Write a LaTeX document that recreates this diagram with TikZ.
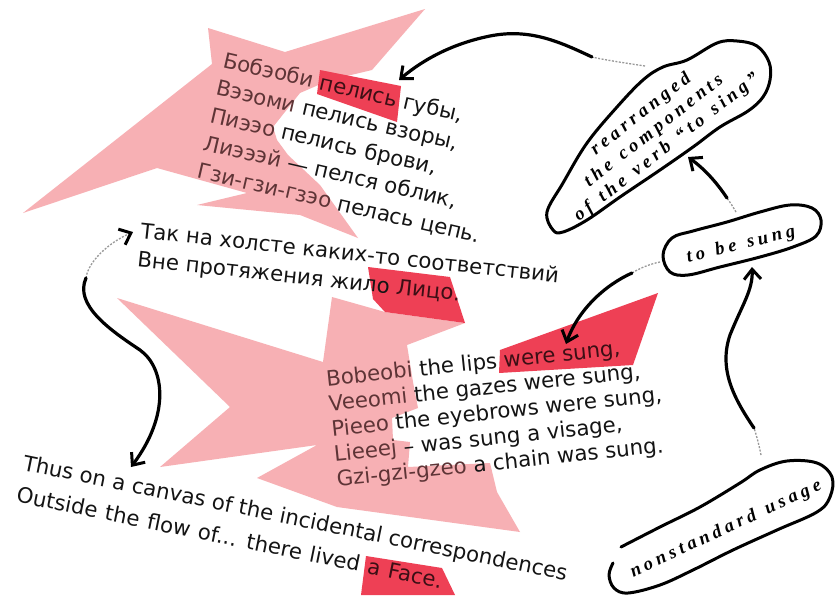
\documentclass[tikz,border=0pt]{standalone}
\usepackage{fontspec}
\usetikzlibrary{arrows.meta}
\newfontfamily\poemfont{DejaVu Sans}
\newfontfamily\handfont{Liberation Serif}[LetterSpace=22]
\definecolor{pinkfill}{HTML}{F7B0B4}
\definecolor{redfill}{HTML}{EE4055}
\definecolor{ink}{HTML}{141414}
\definecolor{inpink}{HTML}{5E3436}
\definecolor{inred}{HTML}{3C0F15}

\def\pinkTop{(425,9) -- (285,52) -- (208,28) -- (212,64) -- (23,213) -- (157,168) -- (247,193) -- (197,205) -- (300,215) -- (358,238) -- (320,185) -- (288,155) -- (277,140) -- (273,127) -- (300,93) -- (330,80) -- (372,70) -- cycle}
\def\pinkMid{(117,298) -- (323,362) -- (332,297) -- (385,312) -- (465,323) -- (407,345) -- (413,382) -- (418,408) -- (392,418) -- (393,440) -- (410,442) -- (408,467) -- (490,463) -- (497,492) -- (520,532) -- (337,507) -- (257,478) -- (317,445) -- (160,467) -- (230,407) -- cycle}
\def\redA{(320,70) -- (401,86) -- (397,122) -- (317,94) -- cycle}
\def\redB{(368,267) -- (450,277) -- (465,323) -- (385,312) -- (373,299) -- cycle}
\def\redC{(500,350) -- (658,293) -- (633,365) -- (499,373) -- cycle}
\def\redD{(366,556) -- (442,568) -- (455,595) -- (361,595) -- cycle}

\newcommand\pk[1]{\textcolor{inpink}{#1}}
\newcommand\rd[1]{\textcolor{inred}{#1}}
\newcommand\hwsp{\spaceskip=11pt\relax}
\newcommand\widesp{\spaceskip=8pt\relax}

\tikzset{
  ln/.style={anchor=base west, inner sep=0pt, outer sep=0pt, text=ink,
    font=\poemfont\fontsize{21.3}{25}\selectfont},
  hw/.style={align=center, inner sep=0pt, text=black,
    font=\handfont\bfseries\itshape\fontsize{18.5}{21}\selectfont\hwsp},
  blob/.style={draw=black, line width=3pt, line cap=round, line join=round},
  arr/.style={draw=black, line width=3.2pt, line cap=round,
    -{Straight Barb[length=10pt,width=17pt,line width=3pt,color=black]}},
  faint/.style={draw=black!40, line width=1.3pt, dash pattern=on 2pt off 1.5pt}
}

\begin{document}
\begin{tikzpicture}[x=1pt,y=-1pt]
  \fill[white] (0,0) rectangle (835,595);
  \useasboundingbox (0,0) rectangle (835,595);

  % pink star shapes and red highlights
  \fill[pinkfill] \pinkTop;
  \fill[pinkfill] \pinkMid;
  \fill[redfill] \redA;
  \fill[redfill] \redB;
  \fill[redfill] \redC;
  \fill[redfill] \redD;

  % Russian poem, upper part
  \begin{scope}[shift={(222,67)},rotate=-13,transform shape]
    \node[ln] (rt1) at (0,0) {\pk{Бобэоби} \rd{пелись} губы,};
    \node[ln] (rt2) at (0,28.4) {\pk{Вээоми} пелись взоры,};
    \node[ln] (rt3) at (0,56.8) {\pk{Пиээо} пелись брови,};
    \node[ln] (rt4) at (0,85.2) {\pk{Лиэээй} — пелся облик,};
    \node[ln] (rt5) at (0,113.6) {\pk{Гзи-гзи-гзэо} пелась цепь.};
  \end{scope}
  % Russian poem, closing lines
  \begin{scope}[shift={(140,238)},rotate=-6.1,transform shape]
    \node[ln] (rb1) at (0,0) {Так на холсте каких-то соответствий};
    \node[ln] (rb2) at (0,28.7) {Вне протяжения жило \rd{Лицо.}};
  \end{scope}
  % English translation
  \begin{scope}[shift={(327,386)},rotate=6,transform shape]
    \node[ln] (em1) at (0,0) {\pk{Bobeobi} the lips \rd{were sung,}};
    \node[ln] (em2) at (0,25.3) {\pk{Veeomi} the gazes were sung,};
    \node[ln] (em3) at (0,50.6) {\pk{Pieeo} the eyebrows were sung,};
    \node[ln] (em4) at (0,75.9) {\pk{Lieeej} – was sung a visage,};
    \node[ln] (em5) at (0,101.2) {\pk{Gzi-gzi-gzeo} a chain was sung.};
  \end{scope}
  \begin{scope}[shift={(22,470)},rotate=-11.5,transform shape]
    \node[ln] (eb1) at (0,0) {Thus on a canvas of the incidental correspondences};
    \node[ln] (eb2) at (0,32.5) {\widesp Outside the flow of... there lived \rd{a Face.}};
  \end{scope}

  % hand-drawn blobs
  \draw[blob] plot[smooth cycle, tension=0.6] coordinates {(553,230) (547,212) (563,183) (587,143) (617,107) (643,80) (663,67) (687,60) (717,43) (737,41) (757,46) (769,62) (770,80) (763,97) (748,111) (720,127) (693,147) (660,170) (620,197) (587,220) (563,232)};
  \draw[blob] plot[smooth cycle, tension=0.6] coordinates {(663,255) (672,238) (693,231) (727,222) (760,212) (790,205) (812,208) (821,220) (816,236) (793,247) (760,257) (720,267) (688,275) (670,272)};
  \draw[blob] plot[smooth, tension=0.6] coordinates {(613,563) (609,575) (614,588) (628,593) (660,585) (693,570) (733,550) (777,530) (817,512) (830,497) (832,477) (817,463) (787,461) (760,470) (740,483) (700,507) (660,527) (621,547)};

  % handwritten labels
  \node[hw, rotate=38] (verb) at (654,131) {rearranged\\the components\\of the verb “to sing”};
  \node[hw, rotate=14] (sung) at (741,245) {to be sung};
  \node[hw, rotate=25] (usage) at (726,529) {nonstandard usage};

  % arrow end points
  \coordinate (aT) at (645,66);  \coordinate (aS) at (592,57);  \coordinate (aH) at (399,80);
  \coordinate (bT) at (736,212); \coordinate (bS) at (727,198); \coordinate (bH) at (688,157);
  \coordinate (cT) at (660,262); \coordinate (cS) at (632,273); \coordinate (cH) at (566,344);
  \coordinate (dT) at (761,455); \coordinate (dS) at (754,428); \coordinate (dH) at (752,267);
  \coordinate (eT) at (133,232); \coordinate (eS) at (86,278);  \coordinate (eH) at (131,467);

  % arrows
  \draw[faint] (aT) .. controls (625,63) and (605,60) .. (aS);
  \draw[arr] (aS) .. controls (560,42) and (530,28) .. (490,36) .. controls (455,43) and (425,58) .. (aH);
  \draw[faint] (bT) .. controls (733,207) and (730,202) .. (bS);
  \draw[arr] (bS) .. controls (715,180) and (703,168) .. (bH);
  \draw[faint] (cT) .. controls (650,264) and (640,268) .. (cS);
  \draw[arr] (cS) .. controls (605,285) and (578,310) .. (cH);
  \draw[faint] (dT) .. controls (759,445) and (757,437) .. (dS);
  \draw[arr] (dS) .. controls (735,400) and (718,370) .. (730,335) .. controls (742,305) and (753,290) .. (dH);
  \draw[faint, -{Straight Barb[length=10pt,width=17pt,line width=3pt,color=black]}] (eS) .. controls (88,262) and (108,243) .. (eT);
  \draw[arr] (eS) .. controls (74,305) and (110,330) .. (140,350) .. controls (165,368) and (170,415) .. (eH);
\end{tikzpicture}
\end{document}
